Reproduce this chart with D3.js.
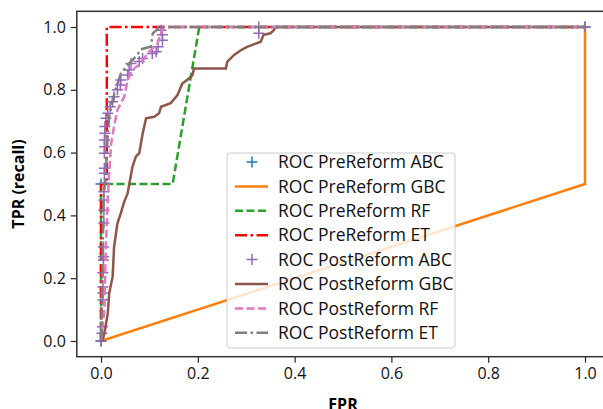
<!DOCTYPE html>
<html><head><meta charset="utf-8">
<script src="https://cdn.jsdelivr.net/npm/d3@7"></script>
<style>body{margin:0;background:#fff}svg{display:block}text{font-family:"Open Sans",Lato,sans-serif}</style>
</head><body><svg id="c" width="603" height="409"></svg>
<script>
// ---- data ----
const xTicks = [0, 0.2, 0.4, 0.6, 0.8, 1.0];
const yTicks = [0, 0.2, 0.4, 0.6, 0.8, 1.0];
const seriesNames = ["ROC PreReform ABC","ROC PreReform GBC","ROC PreReform RF","ROC PreReform ET",
  "ROC PostReform ABC","ROC PostReform GBC","ROC PostReform RF","ROC PostReform ET"];

const preAbcFpr = [0, 0, 1];
const preAbcTpr = [0, 0.5, 1];
const preGbcFpr = [0, 1, 1];
const preGbcTpr = [0, 0.5, 1];
const preRfFpr = [0, 0, 0.148, 0.203, 1];
const preRfTpr = [0, 0.5, 0.5, 1, 1];
const preEtFpr = [0, 0, 0.012, 0.012, 1];
const preEtTpr = [0, 0.5, 0.5, 1, 1];

const postAbcFpr = [0,0.002,0.003,0.004,0.004,0.004,0.004,0.005,0.005,0.005,0.006,0.006,0.006,0.006,0.007,0.007,0.007,0.007,0.007,0.007,0.008,0.008,0.010,0.014,0.019,0.024,0.027,0.034,0.040,0.041,0.055,0.058,0.062,0.079,0.086,0.106,0.114,0.118,0.127,0.127,0.124,0.326,0.326,1];
const postAbcTpr = [0,0.025,0.045,0.131,0.153,0.172,0.217,0.258,0.268,0.299,0.376,0.417,0.449,0.475,0.502,0.534,0.55,0.598,0.619,0.640,0.662,0.683,0.709,0.725,0.746,0.762,0.778,0.800,0.815,0.831,0.847,0.863,0.884,0.890,0.900,0.916,0.921,0.937,0.958,0.975,0.99,0.98,1.0,1.0];

const postGbcFpr = [0,0.0035,0.007,0.014,0.017,0.024,0.027,0.034,0.041,0.048,0.055,0.060,0.065,0.072,0.079,0.086,0.093,0.110,0.120,0.124,0.144,0.158,0.168,0.182,0.189,0.192,0.258,0.261,0.275,0.289,0.302,0.330,0.336,0.350,0.357,0.360,1];
const postGbcTpr = [0,0.003,0.025,0.088,0.152,0.205,0.300,0.375,0.407,0.444,0.470,0.513,0.555,0.587,0.598,0.660,0.709,0.714,0.725,0.746,0.757,0.783,0.820,0.836,0.847,0.868,0.868,0.890,0.911,0.926,0.937,0.953,0.975,0.980,0.990,1.0,1.0];

const postRfFpr = [0,0.007,0.010,0.014,0.017,0.021,0.027,0.034,0.048,0.055,0.065,0.082,0.096,0.117,0.124,0.130,1];
const postRfTpr = [0,0.100,0.300,0.450,0.534,0.630,0.683,0.736,0.778,0.831,0.863,0.884,0.916,0.948,0.980,1.0,1.0];

const postEtFpr = [0,0.003,0.005,0.010,0.014,0.017,0.024,0.031,0.041,0.052,0.075,0.082,0.103,0.107,0.118,0.118,1];
const postEtTpr = [0,0.200,0.450,0.534,0.662,0.714,0.767,0.805,0.852,0.874,0.911,0.929,0.937,0.980,0.995,1.0,1.0];

const colors = ["#1f77b4","#ff7f0e","#2ca02c","#ff0000","#9467bd","#8c564b","#e377c2","#7f7f7f"];
const styles = ["marker","solid","dash","dashdot","marker","solid","dash","dashdot"];
const fprs = [preAbcFpr,preGbcFpr,preRfFpr,preEtFpr,postAbcFpr,postGbcFpr,postRfFpr,postEtFpr];
const tprs = [preAbcTpr,preGbcTpr,preRfTpr,preEtTpr,postAbcTpr,postGbcTpr,postRfTpr,postEtTpr];

// ---- drawing ----
const svg = d3.select("#c");
const x = d3.scaleLinear().domain([-0.05, 1.05]).range([76.8, 609.2]);
const y = d3.scaleLinear().domain([-0.05, 1.05]).range([356.7, 11.3]);
const dashes = {solid:null, dash:"8,3.5", dashdot:"12,3.5,2.5,3.5"};
const lineW = 2.5;

const plot = svg.append("g");
const plusPath = s => `M${-s},0H${s}M0,${-s}V${s}`;

seriesNames.forEach((name, i) => {
  const pts = fprs[i].map((f, k) => [f, tprs[i][k]]);
  if (styles[i] === "marker") {
    plot.append("g").selectAll("path").data(pts).join("path")
      .attr("d", plusPath(5.5))
      .attr("transform", d => `translate(${x(d[0])},${y(d[1])})`)
      .attr("stroke", colors[i]).attr("stroke-width", 1.5).attr("fill", "none");
  } else {
    plot.append("path").datum(pts)
      .attr("d", d3.line().x(d => x(d[0])).y(d => y(d[1])))
      .attr("fill", "none").attr("stroke", colors[i]).attr("stroke-width", lineW)
      .attr("stroke-dasharray", dashes[styles[i]]);
  }
});

// axes
const xAxis = svg.append("g").attr("transform", `translate(0,${y(-0.05)})`)
  .call(d3.axisBottom(x).tickValues(xTicks).tickFormat(d3.format(".1f")).tickSizeOuter(0).tickSize(6).tickPadding(5));
const yAxis = svg.append("g").attr("transform", `translate(${x(-0.05)},0)`)
  .call(d3.axisLeft(y).tickValues(yTicks).tickFormat(d3.format(".1f")).tickSizeOuter(0).tickSize(6).tickPadding(5));
[xAxis, yAxis].forEach(a => {
  a.select(".domain").remove();
  a.selectAll("line").attr("stroke", "#222").attr("stroke-width", 1.2);
  a.selectAll("text").attr("font-size", 16).attr("fill", "#111").attr("font-family", "Open Sans");
});
// spines
svg.append("rect").attr("x", x(-0.05)).attr("y", y(1.05))
  .attr("width", x(1.05) - x(-0.05)).attr("height", y(-0.05) - y(1.05))
  .attr("fill", "none").attr("stroke", "#333").attr("stroke-width", 1.5);

svg.append("text").attr("x", x(0.5)).attr("y", 410)
  .attr("text-anchor", "middle").attr("font-weight", "bold").attr("font-size", 16).text("FPR");
svg.append("text").attr("transform", `translate(24,${(y(-0.05)+y(1.05))/2}) rotate(-90)`)
  .attr("text-anchor", "middle").attr("font-weight", "bold").attr("font-size", 16).text("TPR (recall)");

// legend
const lg = svg.append("g");
lg.append("rect").attr("x", 227).attr("y", 153).attr("width", 228).attr("height", 195)
  .attr("rx", 3).attr("fill", "#fff").attr("fill-opacity", 0.8).attr("stroke", "#ccc").attr("stroke-width", 1);
seriesNames.forEach((name, i) => {
  const cy = 162 + i * 24.4;
  if (styles[i] === "marker") {
    lg.append("path").attr("d", plusPath(5.5)).attr("transform", `translate(252,${cy})`)
      .attr("stroke", colors[i]).attr("stroke-width", 1.5);
  } else {
    lg.append("line").attr("x1", 235).attr("x2", 268).attr("y1", cy).attr("y2", cy)
      .attr("stroke", colors[i]).attr("stroke-width", lineW).attr("stroke-dasharray", dashes[styles[i]]);
  }
  lg.append("text").attr("x", 278).attr("y", cy).attr("dy", "0.35em")
    .attr("font-size", 17.5).attr("fill", "#111").text(name);
});
</script></body></html>
